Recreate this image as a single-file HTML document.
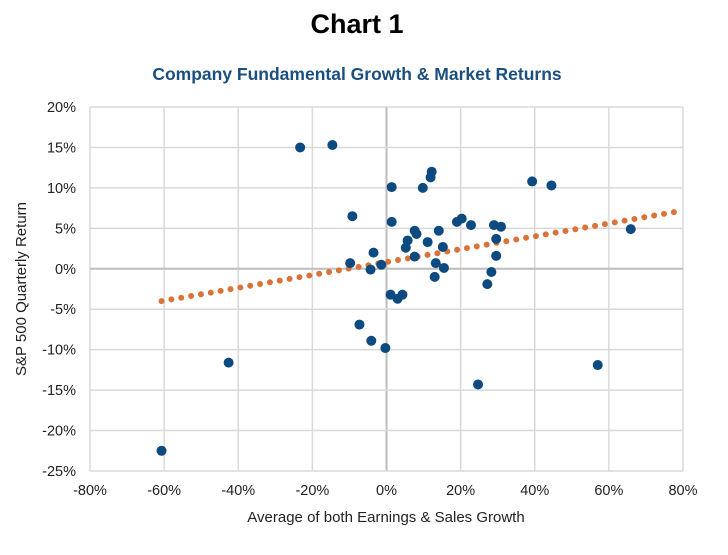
<!DOCTYPE html>
<html><head><meta charset="utf-8"><style>
body{margin:0;background:#fff;width:728px;height:550px;overflow:hidden;font-family:"Liberation Sans",sans-serif}
</style></head><body>
<svg id="chart" width="728" height="550" xmlns="http://www.w3.org/2000/svg" font-family="Liberation Sans, sans-serif">
<text x="357" y="33" text-anchor="middle" font-size="27" font-weight="bold" fill="#000">Chart 1</text>
<text x="357" y="80" text-anchor="middle" font-size="17.5" font-weight="bold" fill="#1b4f7f">Company Fundamental Growth &amp; Market Returns</text>
<g id="grid"></g><g id="trend"></g><g id="points"></g><g id="labels"></g>
<text x="386" y="522" text-anchor="middle" font-size="15" fill="#222">Average of both Earnings &amp; Sales Growth</text>
<text transform="translate(26,289) rotate(-90)" text-anchor="middle" font-size="15" fill="#222">S&amp;P 500 Quarterly Return</text>
</svg>
<script>
const xTicks=[-80,-60,-40,-20,0,20,40,60,80];
const yTicks=[20,15,10,5,0,-5,-10,-15,-20,-25];
const growthX=[-60.7,-42.6,-23.3,-14.6,-9.2,-9.8,-7.3,-4.1,-4.3,-3.5,-1.4,-0.3,1.4,1.4,1.1,3.0,4.3,5.2,5.7,7.6,8.1,7.6,9.8,11.1,11.9,12.2,13.3,13.0,14.1,15.2,15.5,19.0,20.3,22.8,24.7,27.2,28.3,29.0,30.9,29.6,29.6,39.3,44.5,57.0,65.9];
const returnY=[-22.5,-11.6,15.0,15.3,6.5,0.7,-6.9,-8.9,-0.1,2.0,0.5,-9.8,10.1,5.8,-3.2,-3.7,-3.2,2.6,3.5,4.7,4.3,1.5,10.0,3.3,11.3,12.0,0.7,-1.0,4.7,2.7,0.1,5.8,6.2,5.4,-14.3,-1.9,-0.4,5.4,5.2,3.7,1.6,10.8,10.3,-11.9,4.9];
const trendStart=[-60.7,-4.0];
const trendEnd=[80,7.2];
const X0=90,X1=683,Y0=107,Y1=471;
const sx=v=>X0+(v+80)/160*(X1-X0);
const sy=v=>Y0+(20-v)/45*(Y1-Y0);
const NS="http://www.w3.org/2000/svg";
function mk(t,a,p){const e=document.createElementNS(NS,t);for(const k in a)e.setAttribute(k,a[k]);p.appendChild(e);return e;}
const grid=document.getElementById('grid'),labels=document.getElementById('labels');
xTicks.forEach(t=>{
 const l=mk('line',{x1:sx(t),x2:sx(t),y1:Y0,y2:Y1,stroke:t===0?'#bdbdbd':'#d9d9d9','stroke-width':t===0?2:1.5},grid);
 
 
 const tx=mk('text',{x:sx(t),y:Y1+24,'text-anchor':'middle','font-size':14.5,fill:'#222'},labels);
 tx.textContent=t+'%';
 
 
});
yTicks.forEach(t=>{
 const l=mk('line',{x1:X0,x2:X1,y1:sy(t),y2:sy(t),stroke:t===0?'#bdbdbd':'#d9d9d9','stroke-width':t===0?2:1.5},grid);
 
 
 const tx=mk('text',{x:X0-14,y:sy(t)+5,'text-anchor':'end','font-size':14.5,fill:'#222'},labels);
 tx.textContent=t+'%';
 
 
});
const tl=mk('line',{x1:sx(trendStart[0]),y1:sy(trendStart[1]),x2:sx(trendEnd[0]),y2:sy(trendEnd[1]),stroke:'#d9733a','stroke-width':6,'stroke-linecap':'round','stroke-dasharray':'0 10'},document.getElementById('trend'));


const pts=document.getElementById('points');
for(let i=0;i<growthX.length;i++){
 const c=mk('circle',{cx:sx(growthX[i]),cy:sy(returnY[i]),r:5,fill:'#0d4a7f'},pts);
 
 
}
</script>
</body></html>
